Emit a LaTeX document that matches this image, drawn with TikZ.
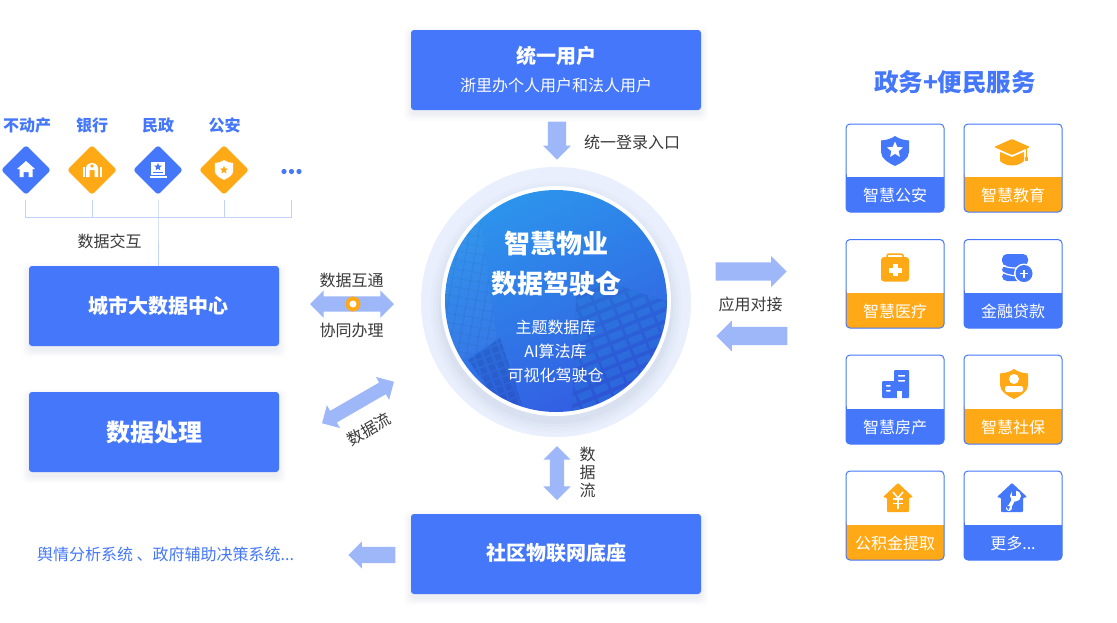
\documentclass[tikz,border=0pt]{standalone}
\usepackage{fontspec}
\setmainfont{Noto Sans CJK SC}
\usetikzlibrary{shapes.arrows,shapes.geometric}
\definecolor{brand}{HTML}{4577FB}
\definecolor{amber}{HTML}{FFA917}
\definecolor{fat}{HTML}{9DB7F8}
\definecolor{hair}{HTML}{C2D2FB}
\definecolor{ink}{HTML}{3A3A3A}
\definecolor{halo}{HTML}{E9EFFC}
\definecolor{discA}{HTML}{2C95EC}
\definecolor{discB}{HTML}{335CE2}
\newcommand{\fsz}[1]{\fontsize{#1}{#1}\selectfont}
\newcommand{\softshade}[4]{%
  \foreach \e/\o in {7/.012,5/.016,3/.02,1/.025}{
    \fill[black!60!brand,opacity=\o,rounded corners=5pt] (#1-\e,#2-\e+4) rectangle (#3+\e,#4+\e+4);}}
\newcommand{\starshape}[1]{\fill[#1] (-90:1) -- (-54:.45) -- (-18:1) -- (18:.45) -- (54:1) -- (90:.45) -- (126:1) -- (162:.45) -- (198:1) -- (234:.45) -- cycle;}
\newcommand{\shieldshape}[1]{\fill[#1] (0,-15) .. controls (4,-12) and (9,-11) .. (14,-10.5) -- (14,1) .. controls (14,8) and (6,12) .. (0,15) .. controls (-6,12) and (-14,8) .. (-14,1) -- (-14,-10.5) .. controls (-9,-11) and (-4,-12) .. (0,-15) -- cycle;}
\newcommand{\houseshape}[1]{\fill[#1,rounded corners=.8pt] (0,-15) -- (15,-1) -- (11,0) -- (11,14) -- (-11,14) -- (-11,0) -- (-15,-1) -- cycle;}
\tikzset{
  panel/.style={fill=brand,rounded corners=3pt,draw=none,text=white,align=center,inner sep=0pt},
  gem/.style={diamond,rounded corners=3pt,minimum width=50pt,minimum height=50pt,inner sep=0pt,fill=#1},
  cat/.style={font=\fsz{16}\bfseries,text=brand,inner sep=0pt},
  note/.style={font=\fsz{16},text=ink,inner sep=0pt},
  cardtext/.style={font=\fsz{16},text=white,inner sep=0pt},
  tree/.style={draw=hair,line width=1pt},
  fatone/.style 2 args={single arrow,fill=fat,draw=none,inner xsep=0pt,inner ysep=#1,minimum width=0pt,single arrow head extend=#2},
  fattwo/.style 2 args={double arrow,fill=fat,draw=none,inner xsep=0pt,inner ysep=#1,minimum width=0pt,double arrow head extend=#2},
  cardedge/.style={draw=brand,line width=1pt,rounded corners=4pt}
}
\newcommand{\card}[6]{% x1 y1 y-split y2 colour label
  \begin{scope}
    \fill[#5,rounded corners=4pt] (#1,#3-6) rectangle (#1+98,#4);
    \fill[white] (#1+.5,#3-7) rectangle (#1+97.5,#3);
    \fill[white,rounded corners=4pt] (#1,#2) rectangle (#1+98,#3);
    \fill[#5] (#1,#3) rectangle (#1+98,#3+6);
    \draw[cardedge] (#1,#2) rectangle (#1+98,#4);
    \node[cardtext] (#6) at (#1+49,{(#3+#4)/2+1}) {#6};
  \end{scope}}
\begin{document}
\begin{tikzpicture}[x=1pt,y=-1pt]
\useasboundingbox (0,0) rectangle (1117,622);
\fill[white] (0,0) rectangle (1117,622);

% central disc
\fill[halo] (556,302) circle[radius=135];
\foreach \r/\o in {126/.012,123/.016,120/.02,117/.025}{
  \fill[black!60!brand,opacity=\o] (556,307) circle[radius=\r];}
\fill[white] (556,301) circle[radius=115];
\begin{scope}
  \clip (556,301) circle[radius=111];
  \shade[top color=discA,bottom color=discB,shading angle=25] (440,185) rectangle (672,417);
  % building facade, lower right
  \begin{scope}
    \clip (577,272) -- (672,303) -- (672,417) -- (572,417) -- cycle;
    \fill[black!60!blue,opacity=.10] (570,265) rectangle (675,420);
    \begin{scope}[shift={(620,345)},rotate=22]
      \foreach \row in {-8,...,8}{
        \foreach \col in {-4,...,4}{
          \fill[discA,opacity=.28] (\col*17-7,\row*11-3) rectangle (\col*17+7,\row*11+4);
        }}
    \end{scope}
  \end{scope}
  % facade, upper left
  \begin{scope}
    \clip (440,215) -- (480,218) -- (497,340) -- (440,372) -- cycle;
    \fill[white,opacity=.03] (440,215) rectangle (500,372);
    \begin{scope}[shift={(470,280)},rotate=-10]
      \foreach \col in {-5,...,5}{
        \fill[black!70!blue,opacity=.06] (\col*9,-80) rectangle (\col*9+1,80);}
      \foreach \row in {-8,...,8}{
        \fill[black!70!blue,opacity=.04] (-50,\row*9) rectangle (50,\row*9+1);}
    \end{scope}
  \end{scope}
  % lower left block
  \begin{scope}
    \clip (468,360) -- (500,338) -- (522,405) -- (500,405) -- cycle;
    \fill[black!70!blue,opacity=.08] (460,335) rectangle (525,410);
    \begin{scope}[shift={(495,375)},rotate=20]
      \foreach \row in {-4,...,4}{
        \foreach \col in {-3,...,3}{
          \fill[black!70!blue,opacity=.08] (\col*9-3,\row*8-3) rectangle (\col*9+3,\row*8+3);
        }}
    \end{scope}
  \end{scope}
\end{scope}
\node[inner sep=0pt,text=white,font=\fsz{26}\bfseries] (hubA) at (556,244) {智慧物业};
\node[inner sep=0pt,text=white,font=\fsz{26}\bfseries] (hubB) at (556,284) {数据驾驶仓};
\node[inner sep=0pt,text=white,font=\fsz{16}] (hubC) at (555.500,327) {主题数据库};
\node[inner sep=0pt,text=white,font=\fsz{16}] (hubD) at (555.500,351) {AI算法库};
\node[inner sep=0pt,text=white,font=\fsz{16}] (hubE) at (555.500,375) {可视化驾驶仓};

% panels
\softshade{411}{30}{701}{110}
\softshade{29}{266}{279}{346}
\softshade{29}{392}{279}{472}
\softshade{411}{514}{701}{594}
\node[panel,minimum width=290pt,minimum height=80pt] (user) at (556,70) {};
\node[inner sep=0pt,text=white,font=\fsz{20}\bfseries] (userA) at (556.500,56) {统一用户};
\node[inner sep=0pt,text=white,font=\fsz{16}] (userB) at (556,85) {浙里办个人用户和法人用户};
\node[panel,minimum width=250pt,minimum height=80pt] (city) at (154,306) {};
\node[inner sep=0pt,text=white,font=\fsz{20}\bfseries] (cityT) at (158.500,306) {城市大数据中心};
\node[panel,minimum width=250pt,minimum height=80pt,font=\fsz{24}\bfseries] (proc) at (154,432) {数据处理};
\node[panel,minimum width=290pt,minimum height=80pt] (iot) at (556,554) {};
\node[inner sep=0pt,text=white,font=\fsz{20}\bfseries] (iotT) at (556,552.500) {社区物联网底座};

% top-left categories
\node[cat] (c1) at (27,125.500) {不动产};
\node[cat] (c2) at (92,125.500) {银行};
\node[cat] (c3) at (158,125.500) {民政};
\node[cat] (c4) at (224.500,125.500) {公安};
\node[gem=brand] (g1) at (26,170) {};
\node[gem=amber] (g2) at (92,170) {};
\node[gem=brand] (g3) at (158,170) {};
\node[gem=amber] (g4) at (224,170) {};
\foreach \x in {284,291.500,299}{\fill[brand] (\x,171.500) circle[radius=2.600];}

% diamond glyphs
\begin{scope}[shift={(26,169)}]
  \fill[white] (0,-8) -- (9,0) -- (6.500,0) -- (6.500,8) -- (2.500,8) -- (2.500,3) -- (-2.500,3) -- (-2.500,8) -- (-6.500,8) -- (-6.500,0) -- (-9,0) -- cycle;
\end{scope}
\begin{scope}[shift={(92,170)}]
  \fill[white] (-9.500,-3) rectangle (-7.500,7);
  \fill[white] (7.500,-3) rectangle (9.500,7);
  \fill[white] (-6,-2) .. controls (-5,-9) and (5,-9) .. (6,-2) -- (6,7) -- (2.500,7) -- (2.500,0) -- (-2.500,0) -- (-2.500,7) -- (-6,7) -- cycle;
  \fill[amber] (0,-4) circle[radius=1.800];
\end{scope}
\begin{scope}[shift={(158,170)}]
  \fill[white] (-7,-8) rectangle (7,5);
  \fill[white] (-8.500,6) rectangle (8.500,7.500);
  \fill[brand] (-5,2) rectangle (5,3.200);
  \begin{scope}[shift={(0,-3)},scale=4]\starshape{brand}\end{scope}
\end{scope}
\begin{scope}[shift={(224,170)},scale=.66]
  \shieldshape{white}
  \begin{scope}[scale=6.500]\starshape{amber}\end{scope}
\end{scope}

% tree
\coordinate (t1) at (25.500,200);
\coordinate (t2) at (92,200);
\coordinate (t3) at (158,200);
\coordinate (t4) at (224,200);
\coordinate (t5) at (291.500,200);
\coordinate (r1) at (25.500,217);
\coordinate (r2) at (92,217);
\coordinate (r3) at (158,217);
\coordinate (r4) at (224,217);
\coordinate (r5) at (291.500,217);
\draw[tree] (t1) -- (r1) -- (r5) -- (t5);
\draw[tree] (t2) -- (r2);
\draw[tree] (t4) -- (r4);
\draw[tree] (t3) -- (r3) -- (158,266);
\node[note] (sw) at (109.500,241) {数据交互};

% fat arrows
\node[fatone={0pt}{5pt},inner xsep=9pt,minimum height=38pt,shape border rotate=270,anchor=tip] (aDown) at (557,160) {};
\node[note] (login) at (632,142) {统一登录入口};
\node[fatone={9pt}{6.500pt},minimum height=71pt,anchor=tip] (aR) at (787,271.500) {};
\node[fatone={9pt}{6.500pt},minimum height=71pt,shape border rotate=180,anchor=tip] (aL) at (716,336) {};
\node[note] (apply) at (750.500,304) {应用对接};
\node[fattwo={7.500pt}{6pt},minimum height=84pt] (aH) at (352,304) {};
\fill[amber] (353,304) circle[radius=7.500];
\fill[white] (353,304) circle[radius=3.500];
\node[note] (x1) at (351.500,280) {数据互通};
\node[note] (x2) at (351.500,330) {协同办理};
\node[fattwo={6.500pt}{6.500pt},minimum height=83pt,rotate=30] (aD) at (358,402.500) {};
\node[note,rotate=30] (x3) at (369,429) {数据流};
\node[fattwo={0pt}{6.500pt},inner xsep=7pt,minimum height=54pt,shape border rotate=90] (aV) at (557,473) {};
\node[note] (v1) at (587.500,454) {数};
\node[note] (v2) at (587.500,472) {据};
\node[note] (v3) at (587.500,490) {流};
\node[fatone={8pt}{5.500pt},minimum height=47pt,shape border rotate=180,anchor=tip] (aB) at (348,555) {};
\node[inner sep=0pt,text=brand,font=\fsz{16}] (sys) at (165.500,554.500) {舆情分析系统 、政府辅助决策系统...};

% services
\node[inner sep=0pt,text=brand,font=\fsz{24.500}\bfseries] (svc) at (955,82) {政务+便民服务};
\card{846}{124}{177}{212}{brand}{智慧公安}
\card{964}{124}{177}{212}{amber}{智慧教育}
\card{846}{239.500}{293}{328}{amber}{智慧医疗}
\card{964}{239.500}{293}{328}{brand}{金融贷款}
\card{846}{355}{409}{444}{brand}{智慧房产}
\card{964}{355}{409}{444}{amber}{智慧社保}
\card{846}{471}{525}{560}{amber}{公积金提取}
\card{964}{471}{525}{560}{brand}{更多...}

% card glyphs
\begin{scope}[shift={(895,151)}]
  \shieldshape{brand}
  \begin{scope}[shift={(0,-1)},scale=8.500]\starshape{white}\end{scope}
\end{scope}
\begin{scope}[shift={(1012,152)}]
  \fill[amber,rounded corners=1pt] (0,-13) -- (18,-5) -- (0,3) -- (-18,-5) -- cycle;
  \fill[amber] (-12,0) -- (0,5) -- (12,0) -- (12,9) .. controls (6,15) and (-6,15) .. (-12,9) -- cycle;
  \fill[amber] (13.500,-5) rectangle (15,5);
  \fill[amber] (12.500,5) rectangle (16,9);
\end{scope}
\begin{scope}[shift={(895,267)}]
  \draw[amber,line width=1.500pt,rounded corners=1.500pt] (-8,-9) -- (-8,-13) -- (8,-13) -- (8,-9);
  \fill[amber,rounded corners=3pt] (-14,-10) rectangle (14,14.500);
  \fill[white] (-2.500,-3) rectangle (2.500,9);
  \fill[white] (-6.500,0.500) rectangle (6.500,5.500);
\end{scope}
\begin{scope}[shift={(1015,267)}]
  \fill[brand,rounded corners=5pt] (-13,-13) rectangle (13,-1);
  \fill[brand,rounded corners=4pt] (-13,-1) rectangle (13,6.500);
  \fill[brand,rounded corners=5pt] (-13,5) rectangle (13,14);
  \draw[white,line width=1.200pt] (-13,-2) .. controls (-6,2) and (6,2) .. (13,-2);
  \draw[white,line width=1.200pt] (-13,5) .. controls (-6,9) and (0,9) .. (5,8);
  \fill[white] (9,6.500) circle[radius=10];
  \fill[brand] (9,6.500) circle[radius=8.500];
  \fill[white] (8.400,2.500) rectangle (9.600,10.500);
  \fill[white] (5,5.900) rectangle (13,7.100);
\end{scope}
\begin{scope}[shift={(896,384)}]
  \fill[brand,rounded corners=1pt] (-2,-14) rectangle (13,14);
  \fill[brand,rounded corners=1pt] (-14,-3) rectangle (-1,14);
  \fill[white,rounded corners=.5pt] (2,-9) rectangle (9,-7.500);
  \fill[white,rounded corners=.5pt] (2,-4) rectangle (9,-2.500);
  \fill[white,rounded corners=.5pt] (-10,1) rectangle (-5.500,2.500);
  \fill[white,rounded corners=.5pt] (-10,6) rectangle (-5.500,7.500);
  \fill[white] (1,7) rectangle (6,14.500);
\end{scope}
\begin{scope}[shift={(1014,384)}]
  \shieldshape{amber}
  \fill[white] (0,-5) circle[radius=5];
  \fill[white,rounded corners=2pt] (-9,2) rectangle (9,8);
\end{scope}
\begin{scope}[shift={(898,498)}]
  \houseshape{amber}
  \draw[white,line width=1.500pt] (-5,-6) -- (0,0) -- (5,-6);
  \draw[white,line width=1.500pt] (0,0) -- (0,11);
  \draw[white,line width=1.500pt] (-5,1) -- (5,1);
  \draw[white,line width=1.500pt] (-5,5.500) -- (5,5.500);
\end{scope}
\begin{scope}[shift={(1012,498)}]
  \houseshape{brand}
  \draw[white,line width=3.500pt] (-3,10) -- (3,-1);
  \fill[white] (3.500,-2) circle[radius=5.500];
  \fill[brand] (0,-10) rectangle (4,-2);
  \fill[white] (-3,10) circle[radius=3];
  \fill[brand] (-3.500,12) -- (-2,8.500) -- (-7,7) -- cycle;
\end{scope}
\end{tikzpicture}
\end{document}
